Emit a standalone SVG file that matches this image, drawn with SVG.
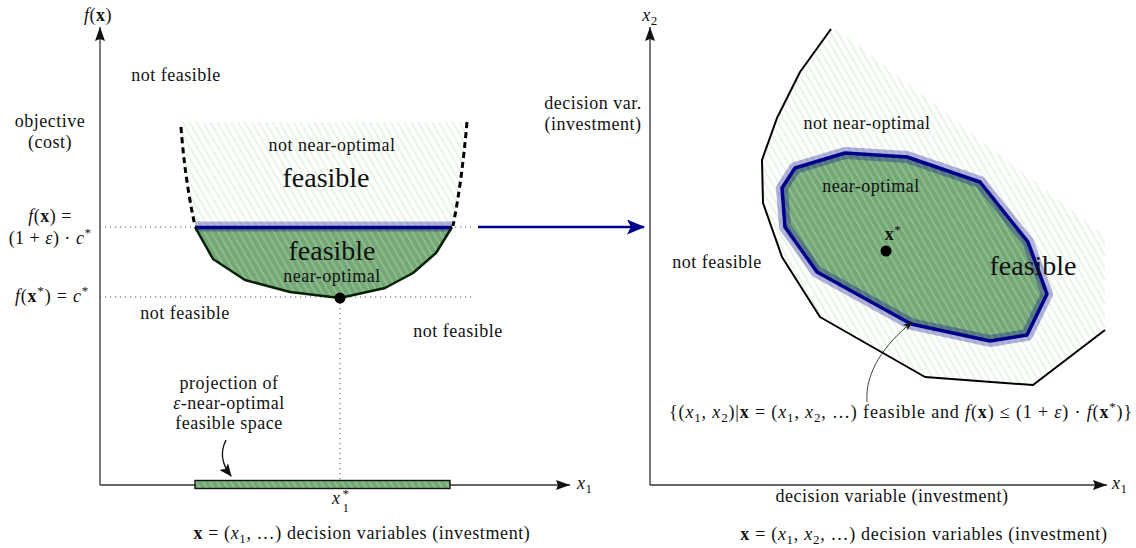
<svg xmlns="http://www.w3.org/2000/svg" width="1136" height="548" viewBox="0 0 1136 548">
<defs>
  <pattern id="hatch" patternUnits="userSpaceOnUse" width="6" height="6" patternTransform="rotate(-30)">
    <line x1="1" y1="-1" x2="1" y2="7" stroke="#bee1b9" stroke-opacity="0.7" stroke-width="1"/>
  </pattern>
  <marker id="axisHead" markerUnits="userSpaceOnUse" viewBox="0 0 14 10" markerWidth="14" markerHeight="10" refX="14" refY="5" orient="auto">
    <path d="M0,0 L14,5 L0,10 L2,5 Z" fill="#111"/>
  </marker>
  <marker id="blueHead" markerUnits="userSpaceOnUse" viewBox="0 0 18 15" markerWidth="18" markerHeight="15" refX="17" refY="7.5" orient="auto">
    <path d="M0,0 L18,7.5 L0,15 L4,7.5 Z" fill="#00008b"/>
  </marker>
  <marker id="bigHead" markerUnits="userSpaceOnUse" viewBox="0 0 13 11" markerWidth="13" markerHeight="11" refX="12" refY="5.5" orient="auto">
    <path d="M0,0 L13,5.5 L0,11 L3,5.5 Z" fill="#111"/>
  </marker>
  <marker id="smallHead" markerUnits="userSpaceOnUse" viewBox="0 0 9 7" markerWidth="9" markerHeight="7" refX="8.5" refY="3.5" orient="auto">
    <path d="M0,0 L9,3.5 L0,7 L2,3.5 Z" fill="#111"/>
  </marker>
</defs>
<style>
  text { font-family: "Liberation Serif", "DejaVu Serif", serif; font-size: 18px; fill: #111; letter-spacing: 0.5px; }
  .big { font-size: 28px; letter-spacing: 0; }
  .it { font-style: italic; }
  .bf { font-weight: bold; }
  .sub { font-size: 13px; }
  .axis { stroke: #333; stroke-width: 1.3; fill: none; }
  .dotted { stroke: #555; stroke-width: 1; stroke-dasharray: 1.2 3.8; fill: none; }
  .green { fill: #74a877; }
  .hatch { fill: url(#hatch); stroke: none; }
  .halo { stroke: #00008b; stroke-opacity: 0.3; fill: none; }
  .navy { stroke: #00008b; fill: none; }
  .dash { stroke: #000; stroke-width: 3; stroke-dasharray: 6 4; fill: none; }
</style>
<rect width="1136" height="548" fill="#fff"/>

<!-- LEFT PANEL -->
<g id="left-axes">
  <path class="axis" d="M100,485 L100,27" marker-end="url(#axisHead)"/>
  <path class="axis" d="M100,485 L570,485" marker-end="url(#axisHead)"/>
  <text x="98" y="21" text-anchor="middle"><tspan class="it">f</tspan>(<tspan class="bf">x</tspan>)</text>
  <text x="577" y="489"><tspan class="it">x</tspan><tspan class="sub" dy="4">1</tspan></text>
  <text x="50" y="127" text-anchor="middle">objective</text>
  <text x="50" y="148" text-anchor="middle">(cost)</text>
  <text x="362" y="539" text-anchor="middle" style="letter-spacing:0.6px"><tspan class="bf">x</tspan> = (<tspan class="it">x</tspan><tspan class="sub" dy="4">1</tspan><tspan dy="-4">, …) decision variables (investment)</tspan></text>
</g>

<g id="left-guides">
  <path class="dotted" d="M100,227 L472,227"/>
  <path class="dotted" d="M100,297 L472,297"/>
  <path class="dotted" d="M340,298 L340,485"/>
  <text x="50" y="222" text-anchor="middle"><tspan class="it">f</tspan>(<tspan class="bf">x</tspan>) =</text>
  <text x="50" y="244" text-anchor="middle">(1 + <tspan class="it">ε</tspan>) · <tspan class="it">c</tspan><tspan class="sub" dy="-7">*</tspan></text>
  <text x="52" y="302" text-anchor="middle" style="letter-spacing:0.8px"><tspan class="it">f</tspan>(<tspan class="bf">x</tspan><tspan class="sub" dy="-7">*</tspan><tspan dy="7">) = </tspan><tspan class="it">c</tspan><tspan class="sub" dy="-7">*</tspan></text>
</g>

<g id="left-feasible-region">
  <path class="green" d="M195,227 L213,259 L245,280 L290,292 L340,298 L385,288 L413,273 L436,253 L452,227 Z"/>
  <path class="hatch" d="M181,122 L467,122 Q462,180 452,227 L436,253 L413,273 L385,288 L340,298 L290,292 L245,280 L213,259 L195,227 Q185,175 181,122 Z"/>
  <path class="halo" stroke-width="10" d="M195,226.5 L452,226.5"/>
  <path class="navy" stroke-width="3.5" d="M195,227.5 L452,227.5"/>
  <path d="M195,227 L213,259 L245,280 L290,292 L340,298 L385,288 L413,273 L436,253 L452,227" fill="none" stroke="#061f06" stroke-width="2.5" stroke-linejoin="round"/>
  <path class="dash" d="M181,127 Q185,180 195,226"/>
  <path class="dash" d="M467,122 Q462,180 453,226"/>
  <circle cx="340" cy="298" r="5.5" fill="#000"/>
  <text x="332" y="151" text-anchor="middle">not near-optimal</text>
  <text x="326" y="187" text-anchor="middle" class="big">feasible</text>
  <text x="332" y="260" text-anchor="middle" class="big">feasible</text>
  <text x="332" y="282" text-anchor="middle">near-optimal</text>
</g>

<g id="left-infeasible-labels">
  <text x="176" y="81" text-anchor="middle">not feasible</text>
  <text x="185" y="319" text-anchor="middle">not feasible</text>
  <text x="458" y="337" text-anchor="middle">not feasible</text>
</g>

<g id="projection">
  <rect x="195" y="480.5" width="255" height="8" class="green"/>
  <rect x="195" y="480.5" width="255" height="8" class="hatch"/>
  <rect x="195" y="480.5" width="255" height="8" fill="none" stroke="#111" stroke-width="1.4"/>
  <text x="229" y="389" text-anchor="middle">projection of</text>
  <text x="229" y="409" text-anchor="middle"><tspan class="it">ε</tspan>-near-optimal</text>
  <text x="229" y="429" text-anchor="middle">feasible space</text>
  <text x="332" y="504" class="it">x</text>
  <text x="342.5" y="498" class="sub">*</text>
  <text x="342.5" y="512" class="sub">1</text>
</g>

<!-- RIGHT PANEL -->
<g id="right-axes">
  <path class="axis" d="M650,485 L650,27" marker-end="url(#axisHead)"/>
  <path class="axis" d="M650,485 L1107,485" marker-end="url(#axisHead)"/>
  <text x="650" y="21" text-anchor="middle"><tspan class="it">x</tspan><tspan class="sub" dy="4">2</tspan></text>
  <text x="1112" y="489"><tspan class="it">x</tspan><tspan class="sub" dy="4">1</tspan></text>
  <text x="593" y="109" text-anchor="middle">decision var.</text>
  <text x="593" y="130" text-anchor="middle">(investment)</text>
  <text x="892" y="502" text-anchor="middle">decision variable (investment)</text>
  <text x="924" y="540" text-anchor="middle" style="letter-spacing:0.7px"><tspan class="bf">x</tspan> = (<tspan class="it">x</tspan><tspan class="sub" dy="4">1</tspan><tspan dy="-4">, </tspan><tspan class="it">x</tspan><tspan class="sub" dy="4">2</tspan><tspan dy="-4">, …) decision variables (investment)</tspan></text>
</g>

<g id="right-feasible-region">
  <path class="green" d="M845,153 L907,157 L980,182 L1028,242 L1047,294 L1027,335 L990,341 L911,324 L817,272 L785,227 L782,188 L795,168 Z"/>
  <path class="hatch" d="M831,29 L800,72 L777,118 L762,160 L763,203 L782,257 L820,317 L925,377 L1033,385 L1105,330 L1105,236 L838,30 Z"/>
  <path class="halo" stroke-width="12" stroke-linejoin="round" d="M845,153 L907,157 L980,182 L1028,242 L1047,294 L1027,335 L990,341 L911,324 L817,272 L785,227 L782,188 L795,168 Z"/>
  <path class="navy" stroke-width="3.5" stroke-linejoin="round" d="M845,153 L907,157 L980,182 L1028,242 L1047,294 L1027,335 L990,341 L911,324 L817,272 L785,227 L782,188 L795,168 Z"/>
  <path d="M831,29 L800,72 L777,118 L762,160 L763,203 L782,257 L820,317 L925,377 L1033,385 L1105,330" fill="none" stroke="#000" stroke-width="2" stroke-linejoin="round"/>
  <circle cx="886" cy="251" r="5.5" fill="#000"/>
  <text x="893" y="240" text-anchor="middle" class="bf">x<tspan class="sub" dy="-6" font-weight="normal">*</tspan></text>
  <text x="867" y="129" text-anchor="middle">not near-optimal</text>
  <text x="871" y="192" text-anchor="middle">near-optimal</text>
  <text x="1033" y="275" text-anchor="middle" class="big">feasible</text>
</g>

<g id="right-infeasible-label">
  <text x="717" y="268" text-anchor="middle">not feasible</text>
</g>

<g id="set-annotation">
  <text x="901" y="418" text-anchor="middle" style="letter-spacing:0.85px">{(<tspan class="it">x</tspan><tspan class="sub" dy="4">1</tspan><tspan dy="-4">, </tspan><tspan class="it">x</tspan><tspan class="sub" dy="4">2</tspan><tspan dy="-4">)|</tspan><tspan class="bf">x</tspan> = (<tspan class="it">x</tspan><tspan class="sub" dy="4">1</tspan><tspan dy="-4">, </tspan><tspan class="it">x</tspan><tspan class="sub" dy="4">2</tspan><tspan dy="-4">, …) feasible and </tspan><tspan class="it">f</tspan>(<tspan class="bf">x</tspan>) ≤ (1 + <tspan class="it">ε</tspan>) · <tspan class="it">f</tspan>(<tspan class="bf">x</tspan><tspan class="sub" dy="-7">*</tspan><tspan dy="7">)}</tspan></text>
</g>

<g id="connectors">
  <path d="M478,227 L644,227" stroke="#00008b" stroke-width="2.5" fill="none" marker-end="url(#blueHead)"/>
  <path d="M226,440 C220,452 221,463 231,476" stroke="#111" stroke-width="1.5" fill="none" marker-end="url(#bigHead)"/>
  <path d="M867,402 C865,372 884,345 912,322" stroke="#111" stroke-width="0.8" fill="none" marker-end="url(#smallHead)"/>
</g>
</svg>
